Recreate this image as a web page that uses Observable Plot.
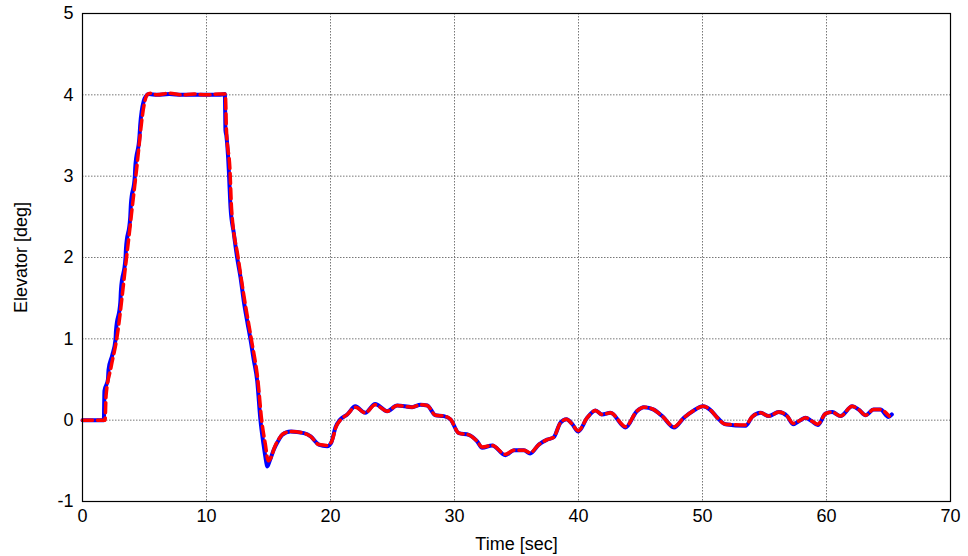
<!DOCTYPE html>
<html>
<head>
<meta charset="utf-8">
<script src="https://cdn.jsdelivr.net/npm/d3@7"></script>
<script src="https://cdn.jsdelivr.net/npm/@observablehq/plot@0.6"></script>
<style>
  html, body { margin: 0; padding: 0; background: #fff; }
  #chart svg { display: block; }
</style>
</head>
<body>
<div id="chart"></div>
<script>
const xTicks = [0, 10, 20, 30, 40, 50, 60, 70];
const yTicks = [-1, 0, 1, 2, 3, 4, 5];

const blueTime = [0, 1.72, 1.77, 2.05, 2.1, 2.4, 2.66, 2.7, 3.05, 3.1, 3.47, 3.5, 3.85, 3.9, 4.22, 4.25, 4.6, 4.65, 4.95, 5.1, 5.35, 6, 7, 8, 9, 10, 11, 11.48,
  11.53, 11.6, 11.8, 11.85, 11.94, 12.2, 12.47, 12.75, 13.0, 13.3, 13.55, 13.8, 14.09, 14.35, 14.6, 14.8, 14.9, 15.1, 15.43, 15.8, 16.1, 16.77, 17.85, 18.4, 19.06, 19.73, 20.05, 20.4, 20.8,
  21.35, 22.0, 22.8, 23.6, 24.57, 25.38, 26.59, 27.26, 27.8, 28.47, 29.14, 29.68, 30.35, 31.15, 31.83, 32.23, 33.04, 34.1, 34.8, 35.6, 36.1,
  36.8, 37.47, 38.0, 38.55, 39.03, 39.5, 39.97, 40.7, 41.37, 41.9, 42.58, 43.8, 44.7, 45.27, 46.07, 46.75, 47.7, 48.5, 49.3, 50.05, 50.6,
  51.2, 51.85, 53.47, 54.0, 54.68, 55.35, 56.15, 56.83, 57.3, 57.9, 58.3, 58.8, 59.3, 59.92, 60.46, 61.13, 62.07, 62.6, 63.15, 63.8, 64.35, 65.0, 65.27];
const blueValue = [0, 0, 0.36, 0.5, 0.62, 0.8, 0.99, 1.1, 1.45, 1.6, 2.0, 2.1, 2.5, 2.65, 3.0, 3.1, 3.5, 3.62, 3.93, 3.98, 4.01, 4.0, 4.01, 4.0, 4.0, 4.0, 4.0, 4.01,
  3.56, 3.5, 3.07, 2.9, 2.61, 2.3, 2.0, 1.75, 1.47, 1.2, 0.99, 0.75, 0.48, 0.0, -0.3, -0.5, -0.57, -0.5, -0.36, -0.25, -0.18, -0.14, -0.16, -0.2, -0.3, -0.32, -0.28, -0.09, 0.01,
  0.07, 0.17, 0.09, 0.2, 0.11, 0.18, 0.16, 0.19, 0.18, 0.06, 0.05, 0.01, -0.16, -0.18, -0.26, -0.34, -0.31, -0.43, -0.37, -0.37, -0.41,
  -0.3, -0.24, -0.21, -0.03, 0.01, -0.05, -0.14, 0.03, 0.12, 0.07, 0.09, -0.09, 0.11, 0.16, 0.13, 0.05, -0.09, 0.03, 0.12, 0.17, 0.13,
  0.03, -0.05, -0.07, 0.04, 0.09, 0.05, 0.1, 0.05, -0.05, 0.0, 0.03, -0.01, -0.06, 0.08, 0.1, 0.05, 0.17, 0.13, 0.06, 0.13, 0.13, 0.04, 0.07];

const redTime = [0, 1.82, 1.9, 2.3, 2.75, 3.55, 4.3, 5.0, 5.2, 5.5, 6, 7, 8, 9, 10, 11, 11.52,
  11.6, 11.9, 12.02, 12.55, 13.08, 13.62, 14.15, 14.45, 14.75, 14.98, 15.2, 15.5, 15.8, 16.15, 16.77, 17.85, 18.4, 19.06, 19.73, 20.1, 20.45, 20.85,
  21.35, 22.0, 22.8, 23.6, 24.57, 25.38, 26.59, 27.26, 27.8, 28.47, 29.14, 29.68, 30.35, 31.15, 31.83, 32.23, 33.04, 34.1, 34.8, 35.6, 36.1,
  36.8, 37.47, 38.0, 38.55, 39.03, 39.5, 39.97, 40.7, 41.37, 41.9, 42.58, 43.8, 44.7, 45.27, 46.07, 46.75, 47.7, 48.5, 49.3, 50.05, 50.6,
  51.2, 51.85, 53.47, 54.0, 54.68, 55.35, 56.15, 56.83, 57.3, 57.9, 58.3, 58.8, 59.3, 59.92, 60.46, 61.13, 62.07, 62.6, 63.15, 63.8, 64.35, 65.05];
const redValue = [0, 0, 0.3, 0.65, 0.99, 2.0, 3.0, 3.9, 4.0, 4.02, 4.0, 4.02, 4.0, 4.01, 4.0, 4.01, 4.01,
  3.6, 3.05, 2.6, 2.0, 1.47, 0.99, 0.48, 0.0, -0.3, -0.5, -0.46, -0.33, -0.24, -0.17, -0.14, -0.16, -0.2, -0.3, -0.31, -0.26, -0.08, 0.01,
  0.07, 0.16, 0.09, 0.19, 0.11, 0.18, 0.16, 0.19, 0.18, 0.06, 0.05, 0.01, -0.16, -0.18, -0.26, -0.33, -0.31, -0.42, -0.37, -0.37, -0.4,
  -0.3, -0.24, -0.21, -0.03, 0.01, -0.05, -0.13, 0.03, 0.12, 0.07, 0.09, -0.08, 0.11, 0.16, 0.13, 0.05, -0.08, 0.03, 0.12, 0.17, 0.13,
  0.03, -0.05, -0.06, 0.04, 0.09, 0.05, 0.1, 0.05, -0.04, 0.0, 0.03, -0.01, -0.05, 0.08, 0.1, 0.05, 0.17, 0.13, 0.06, 0.13, 0.13, 0.05];

const blue = blueTime.map((t, i) => ({t, v: blueValue[i]}));
const red = redTime.map((t, i) => ({t, v: redValue[i]}));

const chart = Plot.plot({
  width: 968,
  height: 556,
  marginLeft: 82,
  marginRight: 18,
  marginTop: 13,
  marginBottom: 55,
  style: {fontFamily: "'Liberation Sans', Arial, sans-serif", fontSize: "18px", color: "#000", background: "#fff"},
  x: {domain: [0, 70]},
  y: {domain: [-1, 5]},
  marks: [
    Plot.gridX(xTicks, {stroke: "#777", strokeOpacity: 1, strokeWidth: 1, strokeDasharray: "1.5,1.5"}),
    Plot.gridY(yTicks, {stroke: "#777", strokeOpacity: 1, strokeWidth: 1, strokeDasharray: "1.5,1.5"}),
    Plot.axisX(xTicks, {tickSize: 0, tickPadding: 8, tickFormat: d => String(d), label: "Time [sec]", labelAnchor: "center", labelArrow: "none", labelOffset: 48, fontSize: 18}),
    Plot.axisY(yTicks, {tickSize: 0, tickPadding: 9, tickFormat: d => String(d), label: "Elevator [deg]", labelAnchor: "center", labelArrow: "none", labelOffset: 68, fontSize: 18}),
    Plot.line(blue, {x: "t", y: "v", stroke: "#0000ff", strokeWidth: 4, strokeLinecap: "round", strokeLinejoin: "round", curve: "monotone-x"}),
    Plot.line(red, {x: "t", y: "v", stroke: "#ff0000", strokeWidth: 3.5, strokeDasharray: "10,5", strokeLinejoin: "round", curve: "monotone-x"}),
    Plot.frame({stroke: "#000", strokeWidth: 1.2})
  ]
});
document.getElementById("chart").appendChild(chart);
</script>
</body>
</html>
